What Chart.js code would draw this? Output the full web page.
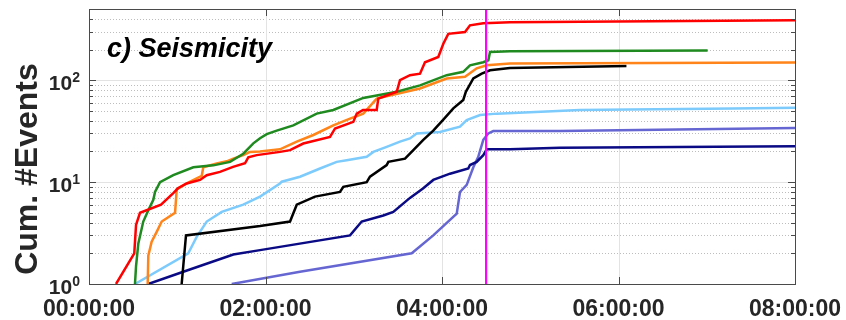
<!DOCTYPE html>
<html>
<head>
<meta charset="utf-8">
<script src="https://cdn.jsdelivr.net/npm/chart.js@4/dist/chart.umd.min.js"></script>
<style>
  html, body { margin: 0; padding: 0; background: #ffffff; }
  #wrap { width: 846px; height: 320px; position: relative; }
</style>
</head>
<body>
<div id="wrap"><canvas id="c" width="846" height="320"></canvas></div>
<script>
// Time axis in hours since 00:00:00, cumulative event counts on a log axis
const xTickHours = [0, 2, 4, 6, 8];
const yDecades = [1, 10, 100];
const yDecadeExponents = ['0', '1', '2'];
const panelTitle = 'c) Seismicity';
const yAxisTitle = 'Cum. #Events';
const mainshockHour = 4.5;

const redHours   = [0.306, 0.513, 0.533, 0.578, 0.816, 0.955, 1.008, 1.107, 1.258, 1.334, 1.484, 1.632, 1.768, 1.805, 1.900, 2.164, 2.278, 2.428, 2.731, 2.788, 2.995, 3.034, 3.105, 3.260, 3.278, 3.487, 3.524, 3.637, 3.751, 3.807, 3.958, 4.015, 4.071, 4.261, 4.317, 4.468, 4.769, 8.0];
const redCounts  = [1, 2, 3.8, 5, 6, 7.8, 8.7, 9.7, 10.5, 11.7, 12.6, 14.1, 15.3, 17.5, 18.4, 19.8, 20.6, 23.9, 27.8, 33.6, 39, 47, 51, 51, 66, 77, 100, 112, 116, 150, 169, 228, 285, 297, 346, 363, 371, 387];

const greenHours  = [0.521, 0.533, 0.559, 0.615, 0.672, 0.729, 0.748, 0.805, 0.955, 1.182, 1.409, 1.598, 1.748, 1.862, 1.938, 2.014, 2.127, 2.315, 2.580, 2.768, 3.108, 3.487, 3.751, 4.053, 4.241, 4.317, 4.468, 4.525, 4.544, 4.770, 7.010];
const greenCounts = [1, 1.5, 2.5, 4.1, 5.3, 6.7, 8, 10, 11.7, 14, 14.6, 15.8, 19, 24, 27, 29.6, 32, 36, 47, 51, 67, 77, 89, 112, 121, 140, 150, 157, 189, 192, 196];

const orangeHours  = [0.665, 0.672, 0.710, 0.767, 0.824, 0.975, 0.994, 1.107, 1.277, 1.295, 1.447, 1.560, 1.635, 1.748, 1.824, 1.938, 2.164, 2.354, 2.542, 2.768, 2.958, 3.108, 3.260, 3.505, 3.751, 4.053, 4.261, 4.393, 4.507, 4.770, 8.0];
const orangeCounts = [1, 1.9, 2.6, 3.25, 4.1, 5, 8.5, 9.7, 11.5, 14, 15.2, 16, 17, 18.4, 19.8, 20, 21, 25, 29, 36, 42, 47, 66, 74, 83, 104, 108, 131, 140, 146, 149];

const blackHours  = [1.050, 1.099, 1.938, 2.278, 2.354, 2.561, 2.844, 2.882, 3.147, 3.184, 3.373, 3.392, 3.581, 3.675, 3.788, 3.901, 4.015, 4.128, 4.241, 4.270, 4.355, 4.450, 4.544, 4.770, 6.090];
const blackCounts = [1, 3, 3.7, 4.1, 6, 7.2, 8, 9, 10, 11.3, 14.7, 15.8, 17, 20.6, 26, 32, 41, 53, 64, 77, 104, 116, 125, 132, 138];

const skyHours  = [0.521, 1.125, 1.220, 1.334, 1.504, 1.748, 1.938, 2.164, 2.184, 2.391, 2.618, 2.807, 2.920, 3.147, 3.222, 3.373, 3.524, 3.637, 3.713, 3.977, 4.204, 4.280, 4.431, 4.620, 5.561, 7.297, 8.0];
const skyCounts = [1, 2, 2.9, 4.1, 5.1, 6, 7.2, 9.7, 10.1, 11.3, 13.6, 15.8, 16.4, 17.7, 19.8, 22.2, 25, 26.8, 30, 31, 35, 40.6, 45.5, 47, 51, 52.7, 53.6];

const navyHours  = [0.672, 1.069, 1.635, 1.938, 2.958, 3.090, 3.335, 3.448, 3.637, 3.788, 3.901, 4.091, 4.298, 4.317, 4.393, 4.468, 4.507, 4.770, 5.337, 8.0];
const navyCounts = [1, 1.32, 1.95, 2.15, 3, 4.1, 4.7, 5.1, 7, 8.7, 10.5, 12.1, 13.6, 14.7, 15.8, 18.4, 21, 21, 21.7, 22.5];

const slateHours  = [1.617, 2.391, 3.657, 3.901, 4.167, 4.204, 4.280, 4.355, 4.411, 4.468, 4.525, 4.581, 5.337, 8.0];
const slateCounts = [1, 1.32, 2, 3, 4.9, 8, 9.4, 14, 17.7, 26, 30, 31.7, 31.7, 34];

const pairs = (xs, ys) => xs.map((x, i) => ({ x: x, y: ys[i] }));
const hhmmss = h => String(h).padStart(2, '0') + ':00:00';

const FONT = "'Liberation Sans', Arial, Helvetica, sans-serif";
const TEXT = '#262626';

function lineSet(xs, ys, color, order) {
  return {
    data: pairs(xs, ys),
    borderColor: color,
    backgroundColor: color,
    borderWidth: 2.5,
    pointRadius: 0,
    tension: 0,
    fill: false,
    order: order
  };
}

// Axes box, log grid, inside tick marks and decorated labels
const axesDecor = {
  id: 'axesDecor',
  beforeDatasetsDraw(chart) {
    const { ctx, chartArea: a, scales: { x, y } } = chart;
    ctx.save();
    // minor (dotted) horizontal grid
    ctx.strokeStyle = '#bdbdbd';
    ctx.lineWidth = 1;
    ctx.setLineDash([1, 2]);
    for (const d of yDecades) {
      for (let k = 2; k <= 9; k++) {
        const v = d * k;
        if (v >= y.max) continue;
        const py = Math.round(y.getPixelForValue(v)) + 0.5;
        ctx.beginPath(); ctx.moveTo(a.left, py); ctx.lineTo(a.right, py); ctx.stroke();
      }
    }
    ctx.setLineDash([]);
    // major grid
    ctx.strokeStyle = '#e3e3e3';
    for (const d of yDecades) {
      if (d <= y.min) continue;
      const py = Math.round(y.getPixelForValue(d)) + 0.5;
      ctx.beginPath(); ctx.moveTo(a.left, py); ctx.lineTo(a.right, py); ctx.stroke();
    }
    for (const h of xTickHours) {
      if (h <= x.min || h >= x.max) continue;
      const px = Math.round(x.getPixelForValue(h)) + 0.5;
      ctx.beginPath(); ctx.moveTo(px, a.top); ctx.lineTo(px, a.bottom); ctx.stroke();
    }
    ctx.restore();
  },
  afterDatasetsDraw(chart) {
    const { ctx, chartArea: a, scales: { x, y } } = chart;
    ctx.save();
    ctx.strokeStyle = '#4a4a4a';
    ctx.lineWidth = 1;
    // tick marks pointing inward
    for (const h of xTickHours) {
      const px = Math.round(x.getPixelForValue(h)) + 0.5;
      ctx.beginPath();
      ctx.moveTo(px, a.top); ctx.lineTo(px, a.top + 7);
      ctx.moveTo(px, a.bottom); ctx.lineTo(px, a.bottom - 7);
      ctx.stroke();
    }
    for (const d of yDecades) {
      for (let k = 1; k <= 9; k++) {
        const v = d * k;
        if (v > y.max) continue;
        const len = k === 1 ? 7 : 4;
        const py = Math.round(y.getPixelForValue(v)) + 0.5;
        ctx.beginPath();
        ctx.moveTo(a.left, py); ctx.lineTo(a.left + len, py);
        ctx.moveTo(a.right, py); ctx.lineTo(a.right - len, py);
        ctx.stroke();
      }
    }
    // box
    ctx.strokeRect(Math.round(a.left) + 0.5, Math.round(a.top) + 0.5,
                   Math.round(a.right - a.left), Math.round(a.bottom - a.top));

    // y tick labels: 10 with superscript exponent
    ctx.fillStyle = TEXT;
    ctx.textBaseline = 'alphabetic';
    yDecades.forEach((d, i) => {
      const py = y.getPixelForValue(d);
      const right = a.left - 9;
      ctx.font = 'bold 14px ' + FONT;
      ctx.textAlign = 'right';
      const ew = ctx.measureText(yDecadeExponents[i]).width;
      ctx.fillText(yDecadeExponents[i], right, py + 2);
      ctx.font = 'bold 21px ' + FONT;
      ctx.fillText('10', right - ew, py + 10);
    });

    // panel title inside the axes
    ctx.font = 'italic bold 27px ' + FONT;
    ctx.textAlign = 'left';
    ctx.fillStyle = '#000000';
    ctx.fillText(panelTitle, 107, 57);

    // y axis title
    ctx.save();
    ctx.translate(37, 169);
    ctx.rotate(-Math.PI / 2);
    ctx.font = 'bold 32px ' + FONT;
    ctx.textAlign = 'center';
    ctx.fillStyle = TEXT;
    ctx.fillText(yAxisTitle, 0, 0);
    ctx.restore();

    ctx.restore();
  }
};

new Chart(document.getElementById('c'), {
  type: 'line',
  data: {
    datasets: [
      {
        data: [{ x: mainshockHour, y: 1 }, { x: mainshockHour, y: 500 }],
        borderColor: '#ff00ff', borderWidth: 2.2, pointRadius: 0, fill: false, order: 0
      },
      lineSet(redHours, redCounts, '#ff0000', 1),
      lineSet(greenHours, greenCounts, '#1f8a1f', 2),
      lineSet(orangeHours, orangeCounts, '#ff8419', 3),
      lineSet(blackHours, blackCounts, '#000000', 4),
      lineSet(skyHours, skyCounts, '#7ccbfc', 5),
      lineSet(navyHours, navyCounts, '#0a0a85', 6),
      lineSet(slateHours, slateCounts, '#6666d2', 7)
    ]
  },
  options: {
    responsive: false,
    animation: false,
    devicePixelRatio: 1,
    layout: { padding: { top: 9, right: 51, left: 0, bottom: 0 } },
    plugins: { legend: { display: false }, tooltip: { enabled: false } },
    scales: {
      x: {
        type: 'linear',
        min: 0, max: 8,
        afterBuildTicks: s => { s.ticks = xTickHours.map(v => ({ value: v })); },
        ticks: {
          callback: v => hhmmss(v),
          font: { family: FONT, size: 23, weight: 'bold' },
          color: TEXT,
          padding: 12,
          maxRotation: 0,
          autoSkip: false
        },
        grid: { display: false, drawTicks: false },
        border: { display: false },
        afterFit: s => { s.height = 36; s.paddingLeft = 0; s.paddingRight = 0; }
      },
      y: {
        type: 'logarithmic',
        min: 1, max: 500,
        ticks: { display: false },
        grid: { display: false, drawTicks: false },
        border: { display: false },
        afterFit: s => { s.width = 89; }
      }
    }
  },
  plugins: [axesDecor]
});
</script>
</body>
</html>
